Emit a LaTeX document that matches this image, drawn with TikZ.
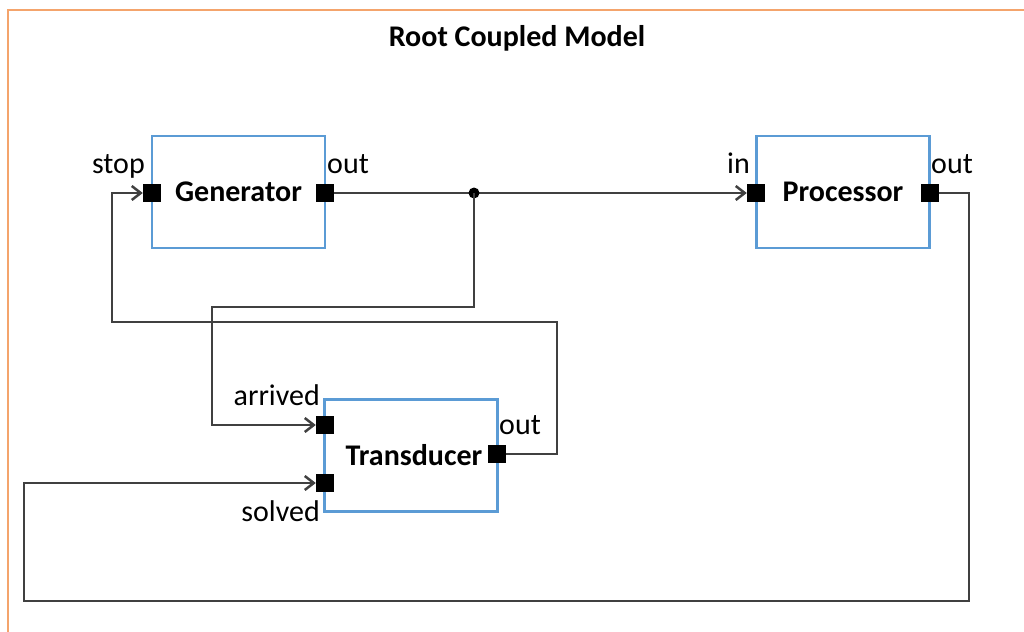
\documentclass[tikz,border=0pt]{standalone}
\usepackage{fontspec}
\setmainfont{Carlito}
\usetikzlibrary{arrows.meta}
\definecolor{wiregray}{HTML}{404040}
\definecolor{boxblue}{HTML}{5B9BD5}
\definecolor{frameorange}{HTML}{F4A46C}
\begin{document}
\begin{tikzpicture}[x=1pt,y=-1pt,
  font=\fontsize{30}{36}\selectfont,
  model/.style={draw=boxblue,line width=2.2pt,minimum width=173pt,minimum height=112pt,inner sep=0pt,font=\fontsize{30}{36}\selectfont\bfseries},
  port/.style={fill=black,draw=none,minimum size=18pt,inner sep=0pt},
  portlabel/.style={inner sep=0pt},
  wire/.style={draw=wiregray,line width=2.5pt},
  inarrow/.style={-{Straight Barb[length=9pt,width=14pt,line width=2.5pt]}}
]
\useasboundingbox (0,0) rectangle (1024,631);
% enclosing coupled model frame
\draw[frameorange,line width=2pt] (8,10.5) rectangle (1030,640);
\node[font=\fontsize{30}{36}\selectfont\bfseries,anchor=base] (title) at (517,47) {Root Coupled Model};

% atomic models
\node[model] (gen)  at (238.5,192) {Generator};
\node[model] (proc) at (843,192) {Processor};
\node[model] (trans) at (411,455.5) {\hspace*{6pt}Transducer};

% ports
\node[port] (gstop) at (152,193) {};
\node[port] (gout)  at (325,193) {};
\node[port] (pin)   at (756,193) {};
\node[port] (pout)  at (930,193) {};
\node[port] (tarr)  at (325,425) {};
\node[port] (tsol)  at (325,483) {};
\node[port] (tout)  at (497,454) {};

% port labels
\node[portlabel,anchor=base east] (lstop) at (145,174) {stop};
\node[portlabel,anchor=base west] (lgout) at (327,174) {out};
\node[portlabel,anchor=base east] (lpin)  at (750,174) {in};
\node[portlabel,anchor=base west] (lpout) at (931,174) {out};
\node[portlabel,anchor=base east] (larr)  at (320,405) {arrived};
\node[portlabel,anchor=base west] (ltout) at (499,434) {out};
\node[portlabel,anchor=base east] (lsol)  at (320,521) {solved};

% couplings
\coordinate (split) at (474,193);
\draw[wire,inarrow] (gout) -- (pin);
\fill[black] (split) circle (5.5pt);
\draw[wire,inarrow] (split) |- (212,307) |- (tarr);
\draw[wire,inarrow] (tout) -| (557,322) -| (112,193) -- (gstop);
\draw[wire,inarrow] (pout) -| (969,601) -| (24,483) -- (tsol);
\end{tikzpicture}
\end{document}
